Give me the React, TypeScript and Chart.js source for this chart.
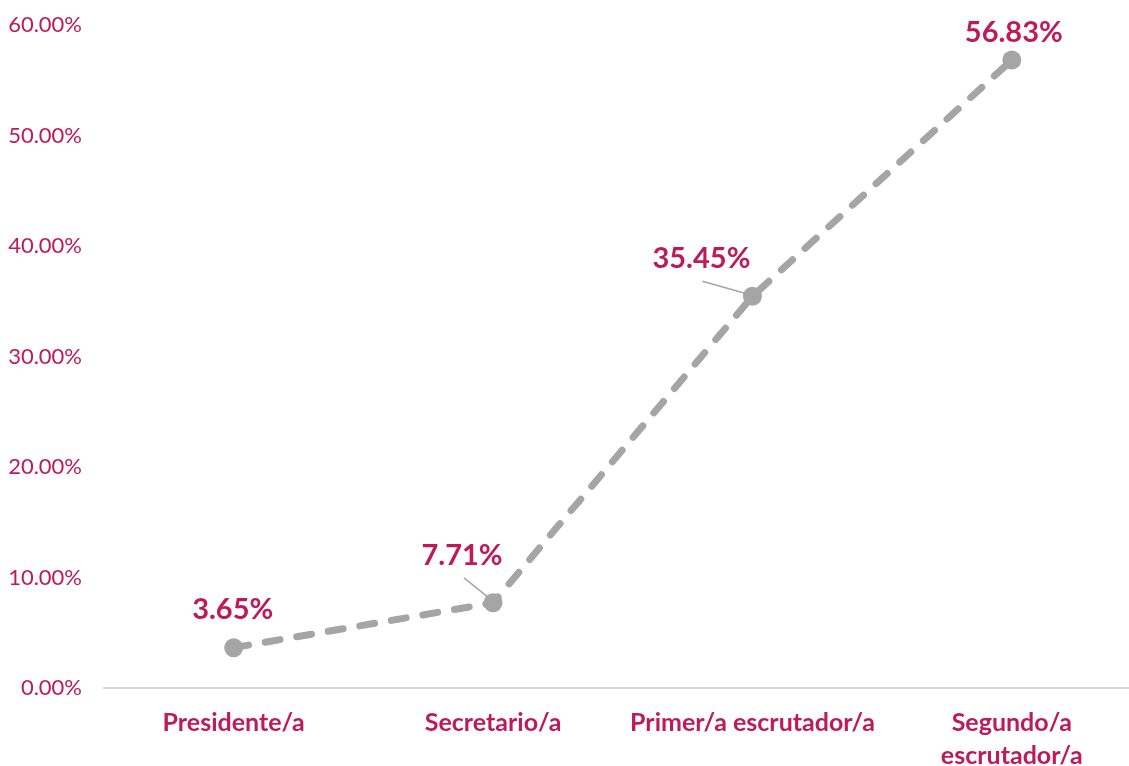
import React, { useEffect, useRef } from "react";
import { Chart, registerables } from "chart.js";

Chart.register(...registerables);

const categories: (string | string[])[] = [
  "Presidente/a",
  "Secretario/a",
  "Primer/a escrutador/a",
  ["Segundo/a", "escrutador/a"],
];
const values: number[] = [3.65, 7.71, 35.45, 56.83];
const valueLabels: string[] = ["3.65%", "7.71%", "35.45%", "56.83%"];

const PINK = "#BE1A5A";
const GRAY = "#A5A5A5";
const FONT = "Lato, 'Open Sans', sans-serif";

// label placement relative to the point (style only)
const labelOffsets = [
  { dx: -1, dy: -38, leader: null },
  { dx: -31, dy: -47, leader: [-29, -25, -3, -4] },
  { dx: -51, dy: -38, leader: [-50, -15, -4, -2] },
  { dx: 2, dy: -27, leader: null },
];

const labelPlugin = {
  id: "valueLabels",
  afterDatasetsDraw(chart: any) {
    const ctx = chart.ctx;
    const meta = chart.getDatasetMeta(0);
    ctx.save();
    meta.data.forEach((pt: any, i: number) => {
      const o = labelOffsets[i];
      if (o.leader) {
        ctx.strokeStyle = GRAY;
        ctx.lineWidth = 1.5;
        ctx.beginPath();
        ctx.moveTo(pt.x + o.leader[0], pt.y + o.leader[1]);
        ctx.lineTo(pt.x + o.leader[2], pt.y + o.leader[3]);
        ctx.stroke();
      }
      ctx.fillStyle = PINK;
      ctx.font = `bold 29px ${FONT}`;
      ctx.textAlign = "center";
      ctx.textBaseline = "middle";
      ctx.fillText(valueLabels[i], pt.x + o.dx, pt.y + o.dy);
    });
    ctx.restore();
  },
};

export default function App() {
  const ref = useRef<HTMLCanvasElement | null>(null);
  useEffect(() => {
    if (!ref.current) return;
    const chart = new Chart(ref.current, {
      type: "line",
      data: {
        labels: categories,
        datasets: [
          {
            data: values,
            borderColor: GRAY,
            backgroundColor: GRAY,
            borderWidth: 7,
            borderDash: [15, 17],
            borderCapStyle: "round",
            pointRadius: 9.5,
            pointBorderWidth: 0,
            pointBackgroundColor: GRAY,
            tension: 0,
          },
        ],
      },
      options: {
        responsive: false,
        animation: false,
        layout: { padding: { top: 25, right: 0, left: 0, bottom: 0 } },
        plugins: {
          legend: { display: false },
          tooltip: { enabled: false },
        },
        scales: {
          x: {
            offset: true,
            grid: { display: false, drawTicks: false },
            border: { display: true, color: "#D9D9D9", width: 2 },
            ticks: {
              color: PINK,
              font: { family: FONT, size: 25, weight: "bold", lineHeight: 1.32 },
              padding: 18,
              maxRotation: 0,
              autoSkip: false,
            },
            afterFit: (s: any) => {
              s.height = 78;
              s.paddingLeft = 0;
              s.paddingRight = 0;
            },
          },
          y: {
            min: 0,
            max: 60,
            grid: { display: false, drawTicks: false },
            border: { display: false },
            ticks: {
              stepSize: 10,
              color: PINK,
              font: { family: FONT, size: 22 },
              padding: 22,
              callback: (v: any) => Number(v).toFixed(2) + "%",
            },
            afterFit: (s: any) => {
              s.width = 104;
              s.paddingTop = 0;
              s.paddingBottom = 0;
            },
          },
        },
      },
      plugins: [labelPlugin],
    } as any);
    return () => chart.destroy();
  }, []);
  return (
    <div
      style={{
        position: "fixed",
        left: 0,
        top: 0,
        width: 1129,
        height: 766,
        overflow: "hidden",
        background: "#fff",
      }}
    >
      <canvas ref={ref} width={1151} height={766} style={{ display: "block" }} />
    </div>
  );
}
